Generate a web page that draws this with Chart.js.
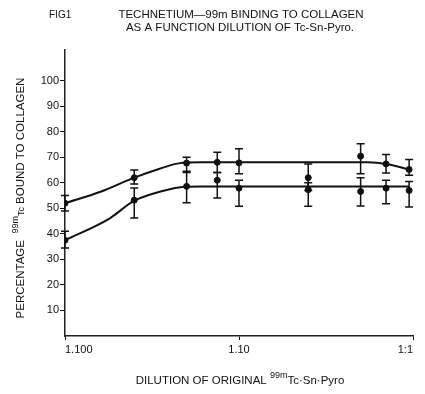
<!DOCTYPE html>
<html>
<head>
<meta charset="utf-8">
<script src="https://cdn.jsdelivr.net/npm/chart.js@4/dist/chart.umd.min.js"></script>
<style>
  html, body { margin: 0; padding: 0; background: #fff; }
  #wrap { width: 425px; height: 394px; position: relative; }
</style>
</head>
<body>
<div id="wrap"><canvas id="fig"></canvas></div>
<script>
// dilution of original Tc-Sn-Pyro (1:100 ... 1:1)
const dilutions = [0.01, 0.025, 0.05, 0.075, 0.1, 0.25, 0.5, 0.7, 0.95]

// upper series (mean, error bar ends)
const upperMean = [52, 62, 67.7, 68, 67.8, 62, 70.4, 67.4, 65.2]
const upperHigh = [55, 65, 70, 72, 73.3, 67.4, 75.3, 71.1, 69.1]
const upperLow  = [49, 59.5, 64.5, 64, 63.5, 57, 63.5, 63.8, 63]

// lower series
const lowerMean = [37.5, 53.2, 58.6, 61, 57.9, 57.3, 56.6, 57.9, 57]
const lowerHigh = [41, 58, 64, 64, 61, 60, 62, 61, 60.5]
const lowerLow  = [34.5, 46.2, 52.2, 54, 50.8, 50.8, 50.9, 51.8, 50.5]

// hand drawn fitted curves
const upperFitX = [0.01, 0.016, 0.025, 0.035, 0.045, 0.06, 0.1, 0.3, 0.55, 0.7, 0.95]
const upperFitY = [52, 56.5, 62, 65.5, 67.6, 68, 68, 68, 68, 67.4, 65.2]
const lowerFitX = [0.01, 0.018, 0.025, 0.035, 0.045, 0.06, 0.1, 0.5, 0.95]
const lowerFitY = [37.5, 46, 53, 56.5, 58.2, 58.5, 58.5, 58.5, 58.5]

const xTicks = [0.01, 0.1, 1]
const xTickLabels = {0.01: "1.100", 0.1: "1.10", 1: "1:1"}
const yTicks = [10, 20, 30, 40, 50, 60, 70, 80, 90, 100]

const FONT = "Liberation Sans"
const toPts = (xs, ys) => xs.map((x, i) => ({x, y: ys[i]}))

const errorBars = {
    id: "errorBars",
    afterDatasetsDraw(chart) {
        const {ctx, scales: {x, y}} = chart
        ctx.save()
        ctx.strokeStyle = "#111"
        ctx.lineWidth = 1.5
        const sets = [[upperHigh, upperLow], [lowerHigh, lowerLow]]
        sets.forEach(([hi, lo]) => {
            dilutions.forEach((d, i) => {
                const px = x.getPixelForValue(d)
                const top = y.getPixelForValue(hi[i])
                const bot = y.getPixelForValue(lo[i])
                ctx.beginPath()
                ctx.moveTo(px, top); ctx.lineTo(px, bot)
                ctx.moveTo(px - 4, top); ctx.lineTo(px + 4, top)
                ctx.moveTo(px - 4, bot); ctx.lineTo(px + 4, bot)
                ctx.stroke()
            })
        })
        ctx.restore()
    }
}

// draws a run of text pieces (some superscript) centred on 0,0
function drawRun(ctx, parts) {
    let w = 0
    parts.forEach(([t, s]) => { ctx.font = `${s}px ${FONT}`; w += ctx.measureText(t).width })
    let cur = -w / 2
    ctx.textAlign = "left"
    parts.forEach(([t, s, dy]) => {
        ctx.font = `${s}px ${FONT}`
        ctx.fillText(t, cur, dy)
        cur += ctx.measureText(t).width
    })
}

// titles with superscripts drawn on the canvas
const labels = {
    id: "labels",
    afterDraw(chart) {
        const {ctx} = chart
        ctx.save()
        ctx.fillStyle = "#111"
        ctx.textBaseline = "alphabetic"
        ctx.font = `10px ${FONT}`
        ctx.textAlign = "left"
        ctx.fillText("FIG1", 49, 18)
        ctx.font = `11.5px ${FONT}`
        ctx.textAlign = "center"
        ctx.fillText("TECHNETIUM\u201499m BINDING TO COLLAGEN", 241, 18)
        ctx.fillText("AS A FUNCTION DILUTION OF Tc-Sn-Pyro.", 240, 31)

        ctx.save()
        ctx.translate(240, 384)
        drawRun(ctx, [["DILUTION OF ORIGINAL ", 11.5, 0], ["99m", 9, -6], ["Tc\u00B7Sn\u00B7Pyro", 11.5, 0]])
        ctx.restore()

        ctx.translate(24, 198)
        ctx.rotate(-Math.PI / 2)
        drawRun(ctx, [["PERCENTAGE  ", 11.5, 0], ["99m", 9, -6], ["Tc", 9, 0], [" BOUND TO COLLAGEN", 11.5, 0]])
        ctx.restore()
    }
}

new Chart(document.getElementById("fig"), {
    type: "scatter",
    data: {
        datasets: [
            {data: toPts(upperFitX, upperFitY), showLine: true, borderColor: "#111", borderWidth: 2,
             pointRadius: 0, cubicInterpolationMode: "monotone"},
            {data: toPts(lowerFitX, lowerFitY), showLine: true, borderColor: "#111", borderWidth: 2,
             pointRadius: 0, cubicInterpolationMode: "monotone"},
            {data: toPts(dilutions, upperMean), backgroundColor: "#111", borderColor: "#111", pointRadius: 3},
            {data: toPts(dilutions, lowerMean), backgroundColor: "#111", borderColor: "#111", pointRadius: 3}
        ]
    },
    options: {
        responsive: true,
        maintainAspectRatio: false,
        animation: false,
        layout: {padding: {left: 0, right: 12, top: 50, bottom: 0}},
        plugins: {legend: {display: false}, tooltip: {enabled: false}},
        scales: {
            x: {
                type: "logarithmic",
                min: 0.01, max: 1,
                afterBuildTicks: (s) => { s.ticks = xTicks.map(v => ({value: v})) },
                afterFit: (s) => { s.height = 58 },
                grid: {drawOnChartArea: false, color: "#111", tickLength: 4},
                border: {color: "#222", width: 1.5},
                ticks: {
                    color: "#111", font: {family: FONT, size: 11}, align: "inner",
                    maxRotation: 0, padding: 3,
                    callback: (v) => xTickLabels[v] || ""
                }
            },
            y: {
                min: 0, max: 112,
                afterBuildTicks: (s) => { s.ticks = yTicks.map(v => ({value: v})) },
                afterFit: (s) => { s.width = 65 },
                grid: {drawOnChartArea: false, color: "#111", tickLength: 5},
                border: {color: "#222", width: 1.5},
                ticks: {color: "#111", font: {family: FONT, size: 11}, padding: 1}
            }
        }
    },
    plugins: [errorBars, labels]
})
</script>
</body>
</html>
